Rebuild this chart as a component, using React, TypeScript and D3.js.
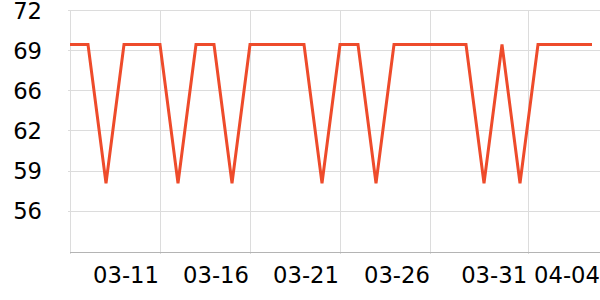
import React from "react";
import * as d3 from "d3";

const dates = [
  "03-06","03-07","03-08","03-09","03-10","03-11","03-12","03-13","03-14","03-15",
  "03-16","03-17","03-18","03-19","03-20","03-21","03-22","03-23","03-24","03-25",
  "03-26","03-27","03-28","03-29","03-30","03-31","04-01","04-02","04-03","04-04",
];
const values = [
  69.4, 69.4, 58, 69.4, 69.4, 69.4, 58, 69.4, 69.4, 58,
  69.4, 69.4, 69.4, 69.4, 58, 69.4, 69.4, 58, 69.4, 69.4,
  69.4, 69.4, 69.4, 58, 69.4, 58, 69.4, 69.4, 69.4, 69.4,
];
const xTickPositions = [5, 10, 15, 20.05, 25.45, 29.5];
const xTickLabels = ["03-11", "03-16", "03-21", "03-26", "03-31", "04-04"];
const yTickValues = [72.2, 68.9, 65.6, 62.3, 59, 55.7];

export default function App() {
  const W = 600, H = 300;
  const left = 70, right = 592, top = 10.5, bottom = 252;
  const x = d3.scaleLinear().domain([0, dates.length - 1]).range([left, right]);
  const y = d3.scaleLinear().domain([52.35, 72.2]).range([bottom, top]);
  const line = d3.line<number>().x((_, i) => x(i)).y((d) => y(d));
  const font = "DejaVu Sans, sans-serif";
  const crisp = (v: number) => Math.floor(v) + 0.5;

  return (
    <svg width={W} height={H} style={{ position: "absolute", left: 0, top: 0, background: "#fff" }}>
      {yTickValues.map((v) => (
        <g key={"y" + v}>
          <line x1={left - 2} x2={W} y1={crisp(y(v))} y2={crisp(y(v))} stroke="#dcdcdc" strokeWidth={1} />
          <text x={42} y={y(v) + 8} textAnchor="end" fontFamily={font} fontSize={22.7} fill="#000">
            {Math.round(v)}
          </text>
        </g>
      ))}
      <line x1={crisp(left)} x2={crisp(left)} y1={top} y2={bottom + 2} stroke="#dcdcdc" strokeWidth={1} />
      {xTickPositions.map((p, i) => {
        const px = crisp(x(p));
        return (
          <g key={"x" + i}>
            {px < W && (
              <line x1={px} x2={px} y1={top} y2={bottom + 2} stroke="#dcdcdc" strokeWidth={1} />
            )}
            <text x={x(p) - 1} y={282.5} textAnchor="end" fontFamily={font} fontSize={22.7} fill="#000">
              {xTickLabels[i]}
            </text>
          </g>
        );
      })}
      <line x1={left} x2={W} y1={crisp(bottom)} y2={crisp(bottom)} stroke="#b4b4b4" strokeWidth={1} />
      <path d={line(values) || ""} fill="none" stroke="#ee4b2b" strokeWidth={3} strokeLinejoin="miter" />
    </svg>
  );
}
